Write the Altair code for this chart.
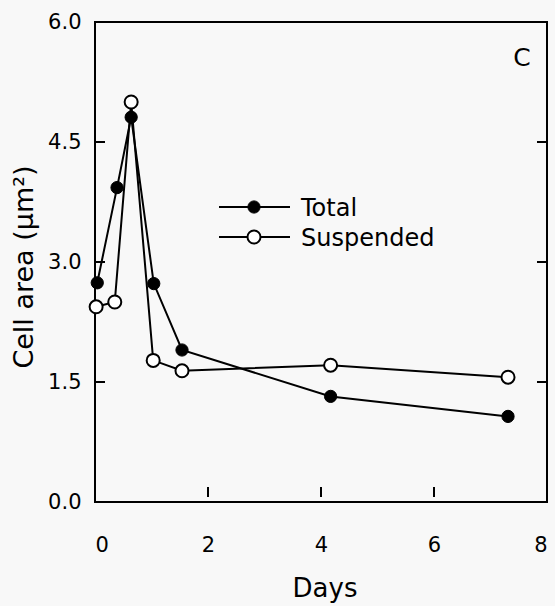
import altair as alt
import pandas as pd

# Data
total_days = [0.04, 0.39, 0.64, 1.04, 1.54, 4.17, 7.31]
total_area = [2.74, 3.93, 4.81, 2.73, 1.90, 1.32, 1.07]
susp_days = [0.02, 0.35, 0.64, 1.03, 1.54, 4.17, 7.31]
susp_area = [2.44, 2.50, 5.00, 1.77, 1.64, 1.71, 1.56]

x_ticks = [0, 2, 4, 6, 8]
y_ticks = [0.0, 1.5, 3.0, 4.5, 6.0]
inner_x_ticks = [2, 4, 6]
inner_y_ticks = [1.5, 3.0, 4.5]

W, H = 452, 480
FONT = "DejaVu Sans"

df = pd.DataFrame({
    "day": total_days + susp_days,
    "area": total_area + susp_area,
    "series": ["Total"] * len(total_days) + ["Suspended"] * len(susp_days),
    "ord": list(range(len(total_days))) + list(range(len(susp_days))),
})
df_t = df[df.series == "Total"]
df_s = df[df.series == "Suspended"]

xs = alt.Scale(domain=[0, 8], nice=False, zero=False)
ys = alt.Scale(domain=[0, 6], nice=False, zero=False)

xenc = alt.X("day:Q", scale=xs, axis=alt.Axis(
    values=x_ticks, format="d", tickSize=0, domain=False, grid=False,
    labelPadding=32, title=None, labelFontSize=21))
yenc = alt.Y("area:Q", scale=ys, axis=alt.Axis(
    values=y_ticks, format=".1f", tickSize=0, domain=False, grid=False,
    labelPadding=14, title=None, labelFontSize=21))

lines = alt.Chart(df).mark_line(color="black", strokeWidth=2).encode(
    x=xenc, y=yenc, detail="series:N", order="ord:Q")

pts_s = alt.Chart(df_s).mark_point(
    shape="circle", size=170, filled=True, fill="white", stroke="black",
    strokeWidth=2, opacity=1).encode(x="day:Q", y="area:Q")
pts_t = alt.Chart(df_t).mark_point(
    shape="circle", size=150, filled=True, fill="black", stroke="black",
    strokeWidth=1, opacity=1).encode(x="day:Q", y="area:Q")

# inward ticks
ly = pd.DataFrame({"v": inner_y_ticks})
lx = pd.DataFrame({"v": inner_x_ticks})
tick_left = alt.Chart(ly).mark_rule(color="black", strokeWidth=2).encode(
    y=alt.Y("v:Q", scale=ys), x=alt.value(0), x2=alt.value(10))
tick_right = alt.Chart(ly).mark_rule(color="black", strokeWidth=2).encode(
    y=alt.Y("v:Q", scale=ys), x=alt.value(W - 10), x2=alt.value(W))
tick_bottom = alt.Chart(lx).mark_rule(color="black", strokeWidth=2).encode(
    x=alt.X("v:Q", scale=xs), y=alt.value(H - 15), y2=alt.value(H - 5))

# legend (drawn inside the plot)
leg_y = {"Total": 185, "Suspended": 215}
legend_layers = []
for name, fill, sw, sz in [("Total", "black", 1, 150), ("Suspended", "white", 2, 170)]:
    src = alt.Chart(pd.DataFrame({"series": [name]}))
    yv = leg_y[name]
    legend_layers.append(src.mark_rule(color="black", strokeWidth=2).encode(
        x=alt.value(124), x2=alt.value(195), y=alt.value(yv)))
    legend_layers.append(src.mark_point(
        shape="circle", size=sz, filled=True, fill=fill, stroke="black",
        strokeWidth=sw, opacity=1).encode(x=alt.value(159), y=alt.value(yv)))
    legend_layers.append(src.mark_text(
        align="left", baseline="alphabetic", fontSize=24, font=FONT, color="black").encode(
        x=alt.value(206), y=alt.value(yv + 9), text="series:N"))

panel = alt.Chart(pd.DataFrame({"t": ["C"]})).mark_text(
    fontSize=25, font=FONT, color="black", align="center", baseline="alphabetic").encode(
    x=alt.value(427), y=alt.value(44), text="t:N")

x_title = alt.Chart(pd.DataFrame({"t": ["Days"]})).mark_text(
    fontSize=26, font=FONT, color="black", align="center", baseline="alphabetic").encode(
    x=alt.value(230), y=alt.value(575), text="t:N")
y_title = alt.Chart(pd.DataFrame({"t": ["Cell area (μm²)"]})).mark_text(
    fontSize=27, font=FONT, color="black", align="center", baseline="alphabetic",
    angle=270).encode(
    x=alt.value(-62), y=alt.value(245), text="t:N")

chart = alt.layer(
    lines, tick_left, tick_right, tick_bottom, pts_s, pts_t, *legend_layers,
    panel, x_title, y_title
).properties(
    width=W, height=H,
    autosize=alt.AutoSizeParams(type="none"),
    padding={"left": 95, "top": 22, "right": 8, "bottom": 104},
    background="#f8f8f8",
).configure_view(
    stroke="black", strokeWidth=2
).configure_axis(
    labelFont=FONT, titleFont=FONT, labelColor="black", titleColor="black"
)

chart.save("out.html", embed_options={"renderer": "svg", "actions": False})
